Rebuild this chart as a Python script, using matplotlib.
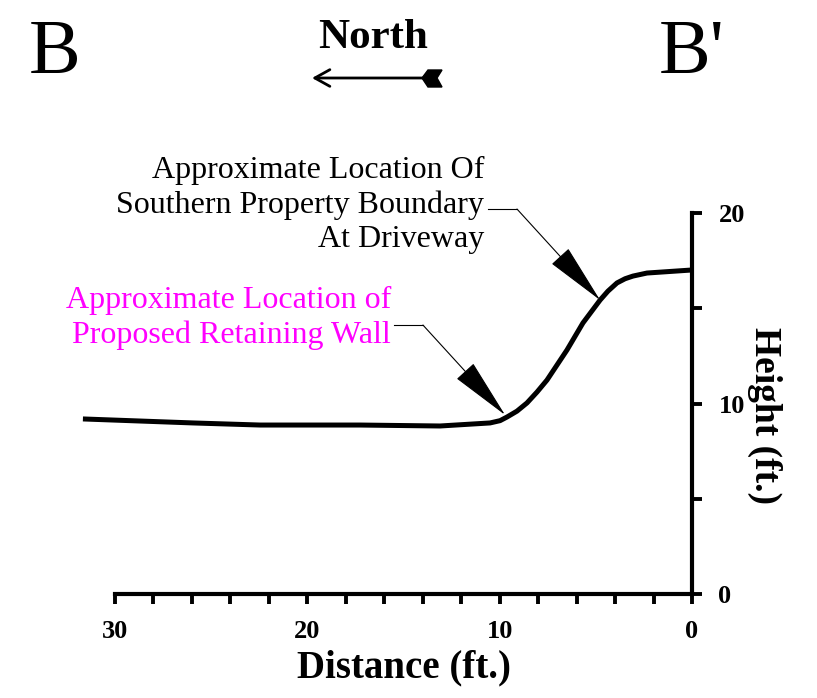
import matplotlib.pyplot as plt
from matplotlib.patches import Polygon, FancyArrowPatch

# ground profile
distance = [31.67, 25.95, 22.46, 17.26, 13.10, 10.50, 9.98, 9.62, 9.10, 8.58, 8.06, 7.54,
            6.50, 5.67, 4.78, 4.37, 3.90, 3.48, 3.07, 2.34, 0.0]
height = [9.19, 8.98, 8.87, 8.87, 8.82, 8.98, 9.10, 9.29, 9.60, 10.03, 10.60, 11.23,
          12.81, 14.23, 15.43, 15.90, 16.33, 16.55, 16.69, 16.85, 17.01]

x_ticks = [30, 20, 10, 0]
y_ticks = [0, 10, 20]

wall_text = "Approximate Location of\nProposed Retaining Wall"
boundary_text = "Approximate Location Of\nSouthern Property Boundary\nAt Driveway"

plt.rcParams['font.family'] = ['Liberation Serif', 'DejaVu Serif']

fig = plt.figure(figsize=(8.17, 6.98), dpi=100)
ax = fig.add_axes([0.1408, 0.149, 0.7062, 0.5458])

ax.plot(distance, height, color='black', lw=3.6, clip_on=False, solid_capstyle='butt')

ax.set_xlim(30, 0)
ax.set_ylim(0, 20)
ax.set_xticks(x_ticks)
ax.set_xticks(range(0, 31, 2), minor=True)
ax.set_yticks(y_ticks)
ax.set_yticks([5, 15], minor=True)

ax.spines['top'].set_visible(False)
ax.spines['left'].set_visible(False)
for s in ['bottom', 'right']:
    ax.spines[s].set_linewidth(3)
ax.yaxis.tick_right()
ax.yaxis.set_label_position('right')

ax.tick_params(axis='both', which='both', direction='out', width=2.8, length=7)
ax.tick_params(axis='x', which='major', pad=12, labelsize=19)
ax.tick_params(axis='y', which='major', pad=12, labelsize=19)
for lab in ax.get_xticklabels() + ax.get_yticklabels():
    lab.set_fontweight('bold')

ax.set_xlabel('Distance (ft.)', fontsize=28, fontweight='bold', labelpad=4)
ax.set_ylabel('Height (ft.)', fontsize=27, fontweight='bold', rotation=270)
ax.yaxis.set_label_coords(1.157, 0.468)

# callouts
arrow = dict(arrowstyle='-|>,head_length=4.0,head_width=0.75', mutation_scale=10,
             color='black', lw=0.8, shrinkA=0, shrinkB=0)

ax.text(15.65, 14.49, wall_text, color='#ff00ff', fontsize=23, ha='right', va='center',
        multialignment='right', linespacing=1.22)
ax.plot([15.5, 13.99], [14.12, 14.12], color='black', lw=0.8, clip_on=False)
ax.annotate('', xy=(9.72, 9.40), xytext=(13.99, 14.12), arrowprops=arrow,
            annotation_clip=False)

ax.text(10.80, 20.42, boundary_text, color='black', fontsize=23, ha='right', va='center',
        multialignment='right', linespacing=1.22)
ax.plot([10.62, 9.10], [20.21, 20.21], color='black', lw=0.8, clip_on=False)
ax.annotate('', xy=(4.78, 15.43), xytext=(9.10, 20.21), arrowprops=arrow,
            annotation_clip=False)

# section header
fig.text(55 / 817, 1 - 73 / 698, 'B', fontsize=56, ha='center', va='baseline')
fig.text(692 / 817, 1 - 73 / 698, "B'", fontsize=56, ha='center', va='baseline')
fig.text(373 / 817, 1 - 48 / 698, 'North', fontsize=31, fontweight='bold',
         ha='center', va='baseline')
fig.add_artist(FancyArrowPatch(
    (430 / 817, 1 - 78 / 698), (312 / 817, 1 - 78 / 698), transform=fig.transFigure,
    arrowstyle='->,head_length=0.9,head_width=0.5', mutation_scale=12, lw=2, color='black',
    shrinkA=0, shrinkB=0))
tail = [(422, 78), (428, 70), (442, 70), (437, 78), (442, 87), (428, 87)]
fig.add_artist(Polygon([(px / 817, 1 - py / 698) for px, py in tail], closed=True,
                       transform=fig.transFigure, color='black'))

fig.savefig('out.png', dpi=100)
